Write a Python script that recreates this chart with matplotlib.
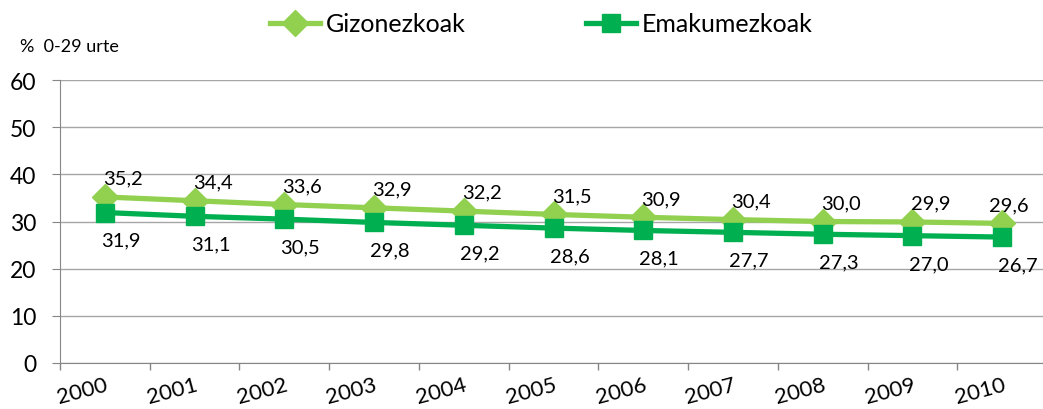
import matplotlib.pyplot as plt
import numpy as np

plt.rcParams['font.family'] = ['Lato', 'DejaVu Sans']

# Datuak
years = ['2000', '2001', '2002', '2003', '2004', '2005',
         '2006', '2007', '2008', '2009', '2010']
gizon = [35.2, 34.4, 33.6, 32.9, 32.2, 31.5, 30.9, 30.4, 30.0, 29.9, 29.6]
emak = [31.9, 31.1, 30.5, 29.8, 29.2, 28.6, 28.1, 27.7, 27.3, 27.0, 26.7]

c_giz = '#92D050'
c_emk = '#00B050'

fig = plt.figure(figsize=(10.43, 4.10), dpi=100)
ax = fig.add_axes([60 / 1043, 46 / 410, 987 / 1043, 283 / 410])

x = np.arange(len(years))
l1, = ax.plot(x, gizon, color=c_giz, lw=3.8, marker='D', ms=13,
              label='Gizonezkoak', zorder=3)
l2, = ax.plot(x, emak, color=c_emk, lw=3.8, marker='s', ms=13,
              label='Emakumezkoak', zorder=4)

# Etiketak (azkena ertzetik ez ateratzeko gutxiago eskuinera)
n = len(years)
for i, (xi, v) in enumerate(zip(x, gizon)):
    dx = 13 if i < n - 1 else 4.5
    ax.annotate(f'{v:.1f}'.replace('.', ','), (xi, v), xytext=(dx, 13.5),
                textcoords='offset points', ha='center', va='center',
                fontsize=14.5, color='black')
for xi, v in zip(x, emak):
    ax.annotate(f'{v:.1f}'.replace('.', ','), (xi, v), xytext=(11.5, -20),
                textcoords='offset points', ha='center', va='center',
                fontsize=14.5, color='black')

ax.set_xlim(-0.5, n - 0.5)
ax.set_ylim(0, 60)
ax.set_yticks(range(0, 61, 10))
ax.grid(axis='y', color='#a6a6a6', lw=1)
ax.set_axisbelow(True)

ax.set_xticks(x)
ax.set_xticklabels(years, rotation=15, fontsize=16, ha='right',
                   rotation_mode='anchor')
ax.set_xticks(x - 0.5, minor=True)
ax.tick_params(axis='x', which='major', length=0, pad=8)
ax.tick_params(axis='x', which='minor', length=5, color='#868686', width=1)
ax.tick_params(axis='y', length=6, color='#868686', labelsize=16.5, pad=11)
for t in ax.get_xticklabels():
    t.set_va('top')

for s in ['top', 'right']:
    ax.spines[s].set_visible(False)
for s in ['left', 'bottom']:
    ax.spines[s].set_color('#868686')

fig.text(20 / 1043, 1 - 47 / 410, '%  0-29 urte', fontsize=13,
         va='center', ha='left')

fig.legend(handles=[l1, l2], loc='center', bbox_to_anchor=(0.519, 1 - 25 / 410),
           ncol=2, frameon=False, fontsize=18, handlelength=2.0,
           columnspacing=4.8, handletextpad=0.25)

fig.savefig('out.png', dpi=100)
